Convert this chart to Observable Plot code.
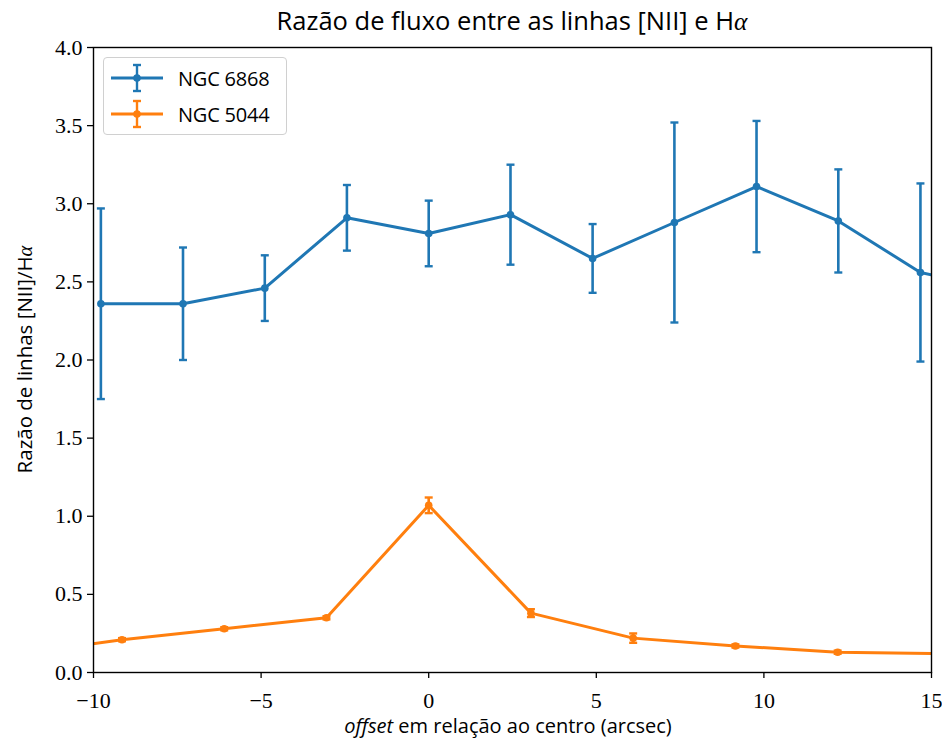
<!DOCTYPE html>
<html>
<head>
<meta charset="utf-8">
<script src="https://cdn.jsdelivr.net/npm/d3@7"></script>
<script src="https://cdn.jsdelivr.net/npm/@observablehq/plot@0.6"></script>
<style>
  html, body { margin: 0; padding: 0; background: #fff; overflow: hidden; }
  #wrap { position: relative; width: 942px; height: 747px; }
  #legend {
    position: absolute; left: 103px; top: 57px; width: 184px; height: 78px;
    box-sizing: border-box; border: 1px solid #d0d0d0; border-radius: 4px;
    background: rgba(255,255,255,0.8); font-family: "Open Sans", sans-serif; font-size: 20px;
    padding-top: 2px;
  }
  .row { display: flex; align-items: center; height: 36px; padding-left: 7px; }
  .row span { margin-left: 15px; letter-spacing: -0.2px; }
</style>
</head>
<body>
<div id="wrap"></div>
<script>
// NGC 6868: offset (arcsec), [NII]/Hα ratio and its uncertainty
const n6868Offset = [-9.78, -7.33, -4.89, -2.44, 0, 2.44, 4.89, 7.33, 9.78, 12.22, 14.67, 17.11];
const n6868Ratio  = [2.36, 2.36, 2.46, 2.91, 2.81, 2.93, 2.65, 2.88, 3.11, 2.89, 2.56, 2.45];
const n6868Err    = [0.61, 0.36, 0.21, 0.21, 0.21, 0.32, 0.22, 0.64, 0.42, 0.33, 0.57, 0.40];

// NGC 5044
const n5044Offset = [-12.2, -9.15, -6.1, -3.05, 0, 3.05, 6.1, 9.15, 12.2, 15.25];
const n5044Ratio  = [0.12, 0.21, 0.28, 0.35, 1.07, 0.38, 0.22, 0.17, 0.13, 0.12];
const n5044Err    = [0.01, 0.01, 0.01, 0.01, 0.05, 0.025, 0.03, 0.01, 0.01, 0.01];

const seriesNames  = ["NGC 6868", "NGC 5044"];
const seriesColors = ["#1f77b4", "#ff7f0e"];

const xTicks = [-10, -5, 0, 5, 10, 15];
const yTicks = [0, 0.5, 1, 1.5, 2, 2.5, 3, 3.5, 4];

const toRows = (xs, ys, es, name) => xs.map((x, i) => ({x, y: ys[i], e: es[i], name}));
const rows = [
  ...toRows(n6868Offset, n6868Ratio, n6868Err, seriesNames[0]),
  ...toRows(n5044Offset, n5044Ratio, n5044Err, seriesNames[1])
];

// horizontal cap for error bars
const cap = {draw(ctx, size) { const w = Math.sqrt(size / Math.PI); ctx.moveTo(-w, 0); ctx.lineTo(w, 0); }};

const serif = "'Liberation Serif', serif";
const sans = "'Open Sans', sans-serif";
const fmt = d => (d < 0 ? "\u2212" + Math.abs(d) : String(d));

const color = {domain: seriesNames, range: seriesColors};

const plot = Plot.plot({
  width: 942,
  height: 747,
  marginLeft: 93,
  marginRight: 11,
  marginTop: 47,
  marginBottom: 75,
  style: {background: "white", color: "black"},
  x: {domain: [-10, 15]},
  y: {domain: [0, 4]},
  color,
  marks: [
    Plot.ruleX(rows, {x: "x", y1: d => d.y - d.e, y2: d => d.y + d.e, stroke: "name", strokeWidth: 2.6, clip: true}),
    Plot.dot(rows, {x: "x", y: d => d.y + d.e, symbol: cap, r: 4, stroke: "name", strokeWidth: 2.4, clip: true}),
    Plot.dot(rows, {x: "x", y: d => d.y - d.e, symbol: cap, r: 4, stroke: "name", strokeWidth: 2.4, clip: true}),
    Plot.line(rows, {x: "x", y: "y", z: "name", stroke: "name", strokeWidth: 3, clip: true}),
    Plot.dot(rows, {x: "x", y: "y", r: 3.8, fill: "name", clip: true}),
    Plot.axisX({ticks: xTicks, tickFormat: fmt, tickSize: 6, tickPadding: 14, fontSize: 22, fontFamily: serif, label: null, strokeWidth: 1.3}),
    Plot.axisY({ticks: yTicks, tickFormat: d3.format(".1f"), tickSize: 6, tickPadding: 5, fontSize: 22, fontFamily: serif, label: null, strokeWidth: 1.3}),
    Plot.frame({stroke: "black", strokeWidth: 1.4})
  ]
});

document.getElementById("wrap").appendChild(plot);

// titles and axis labels
const svg = d3.select(plot);
const [x0, x1] = plot.scale("x").range;
const [y0, y1] = plot.scale("y").range;
const cx = (x0 + x1) / 2, cy = (y0 + y1) / 2;

const title = svg.append("text").attr("x", cx).attr("y", 29.5).attr("text-anchor", "middle")
  .attr("font-family", sans).attr("font-size", 25.5).attr("fill", "black");
title.append("tspan").text("Razão de fluxo entre as linhas [NII] e H");
title.append("tspan").attr("font-family", serif).attr("font-style", "italic").text("α");

const xl = svg.append("text").attr("x", cx - 4).attr("y", 733).attr("text-anchor", "middle")
  .attr("font-family", sans).attr("font-size", 20).attr("fill", "black");
xl.append("tspan").attr("font-style", "italic").text("offset");
xl.append("tspan").text(" em relação ao centro (arcsec)");

const yl = svg.append("text").attr("transform", `translate(32,${cy}) rotate(-90)`).attr("text-anchor", "middle")
  .attr("font-family", sans).attr("font-size", 20.5).attr("fill", "black");
yl.append("tspan").text("Razão de linhas [NII]/H");
yl.append("tspan").attr("font-family", serif).attr("font-style", "italic").text("α");

// legend inside the plot area
const legend = d3.select("#wrap").append("div").attr("id", "legend");
seriesNames.forEach((name, i) => {
  const row = legend.append("div").attr("class", "row");
  const s = row.append("svg").attr("width", 52).attr("height", 36);
  const c = seriesColors[i];
  s.append("line").attr("x1", 0).attr("x2", 52).attr("y1", 18).attr("y2", 18).attr("stroke", c).attr("stroke-width", 3);
  s.append("line").attr("x1", 26).attr("x2", 26).attr("y1", 5).attr("y2", 31).attr("stroke", c).attr("stroke-width", 2.4);
  s.append("line").attr("x1", 22).attr("x2", 30).attr("y1", 5).attr("y2", 5).attr("stroke", c).attr("stroke-width", 2.4);
  s.append("line").attr("x1", 22).attr("x2", 30).attr("y1", 31).attr("y2", 31).attr("stroke", c).attr("stroke-width", 2.4);
  s.append("circle").attr("cx", 26).attr("cy", 18).attr("r", 3.8).attr("fill", c);
  row.append("span").text(name);
});
</script>
</body>
</html>
